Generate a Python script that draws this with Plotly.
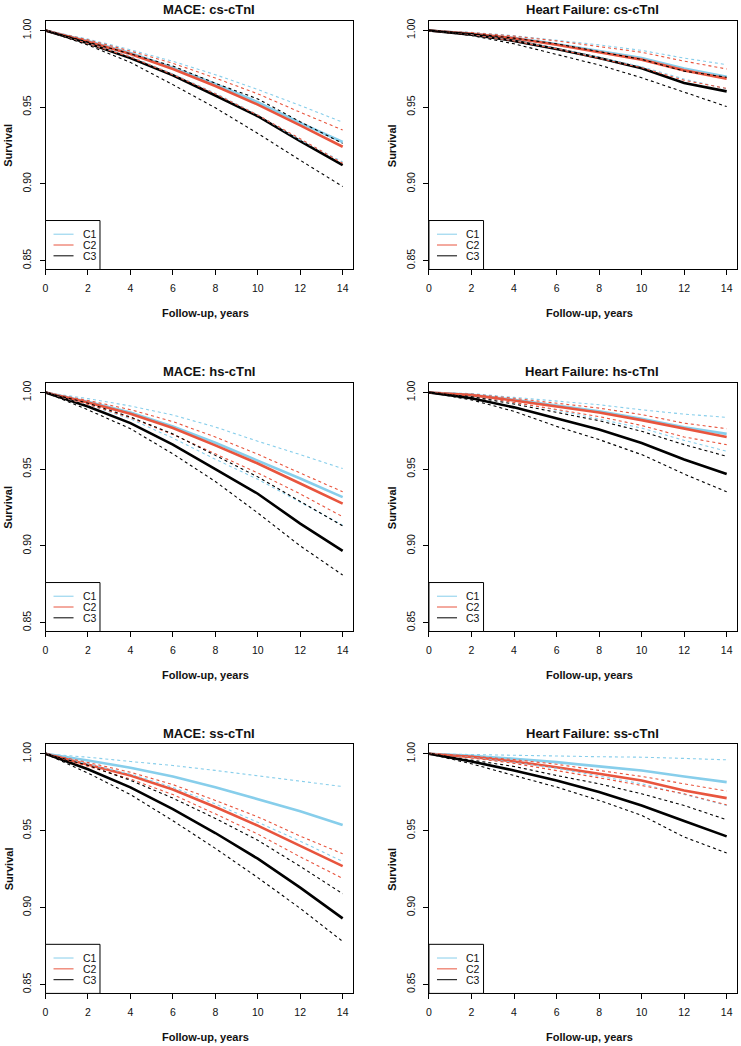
import plotly.graph_objects as go

W, H = 741, 1046

YEARS = [0, 2, 4, 6, 8, 10, 12, 14]
GROUPS = ["C1", "C2", "C3"]
GROUP_COLORS = ["#87CEEB", "#E8553E", "#000000"]
Y_TICKS = [0.85, 0.90, 0.95, 1.00]
X_TICKS = [0, 2, 4, 6, 8, 10, 12, 14]

# MACE: cs-cTnI  (estimate, lower, upper)
mace_cs_c1 = [1.0, 0.9931, 0.9853, 0.9758, 0.9651, 0.9532, 0.9398, 0.9273]
mace_cs_c1_lo = [1.0, 0.9918, 0.9831, 0.9716, 0.9591, 0.9450, 0.9286, 0.9143]
mace_cs_c1_hi = [1.0, 0.9944, 0.9874, 0.9799, 0.9712, 0.9615, 0.9511, 0.9402]
mace_cs_c2 = [1.0, 0.9926, 0.9846, 0.9749, 0.9638, 0.9517, 0.9381, 0.9242]
mace_cs_c2_lo = [1.0, 0.9913, 0.9827, 0.9712, 0.9587, 0.9448, 0.9294, 0.9134]
mace_cs_c2_hi = [1.0, 0.9939, 0.9866, 0.9786, 0.9690, 0.9587, 0.9467, 0.9351]
mace_cs_c3 = [1.0, 0.9916, 0.9820, 0.9708, 0.9576, 0.9441, 0.9279, 0.9123]
mace_cs_c3_lo = [1.0, 0.9905, 0.9792, 0.9647, 0.9496, 0.9329, 0.9154, 0.8983]
mace_cs_c3_hi = [1.0, 0.9926, 0.9848, 0.9768, 0.9656, 0.9554, 0.9405, 0.9264]

# Heart Failure: cs-cTnI
hf_cs_c1 = [1.0, 0.9980, 0.9952, 0.9912, 0.9866, 0.9820, 0.9752, 0.9698]
hf_cs_c1_lo = [1.0, 0.9972, 0.9935, 0.9884, 0.9825, 0.9764, 0.9683, 0.9620]
hf_cs_c1_hi = [1.0, 0.9988, 0.9966, 0.9938, 0.9906, 0.9870, 0.9820, 0.9777]
hf_cs_c2 = [1.0, 0.9979, 0.9949, 0.9907, 0.9858, 0.9810, 0.9740, 0.9686]
hf_cs_c2_lo = [1.0, 0.9971, 0.9932, 0.9880, 0.9818, 0.9757, 0.9675, 0.9622]
hf_cs_c2_hi = [1.0, 0.9986, 0.9963, 0.9932, 0.9895, 0.9858, 0.9800, 0.9749]
hf_cs_c3 = [1.0, 0.9973, 0.9932, 0.9879, 0.9820, 0.9754, 0.9658, 0.9603]
hf_cs_c3_lo = [1.0, 0.9967, 0.9913, 0.9843, 0.9775, 0.9692, 0.9597, 0.9504]
hf_cs_c3_hi = [1.0, 0.9980, 0.9950, 0.9913, 0.9862, 0.9812, 0.9735, 0.9695]

# MACE: hs-cTnI
mace_hs_c1 = [1.0, 0.9940, 0.9870, 0.9778, 0.9672, 0.9558, 0.9439, 0.9318]
mace_hs_c1_lo = [1.0, 0.9920, 0.9828, 0.9703, 0.9565, 0.9434, 0.9285, 0.9135]
mace_hs_c1_hi = [1.0, 0.9960, 0.9912, 0.9853, 0.9775, 0.9682, 0.9595, 0.9504]
mace_hs_c2 = [1.0, 0.9935, 0.9862, 0.9768, 0.9655, 0.9537, 0.9407, 0.9275]
mace_hs_c2_lo = [1.0, 0.9922, 0.9836, 0.9726, 0.9600, 0.9476, 0.9339, 0.9190]
mace_hs_c2_hi = [1.0, 0.9948, 0.9888, 0.9810, 0.9710, 0.9598, 0.9475, 0.9353]
mace_hs_c3 = [1.0, 0.9909, 0.9800, 0.9660, 0.9500, 0.9340, 0.9145, 0.8968]
mace_hs_c3_lo = [1.0, 0.9887, 0.9764, 0.9600, 0.9420, 0.9215, 0.9000, 0.8810]
mace_hs_c3_hi = [1.0, 0.9930, 0.9840, 0.9730, 0.9590, 0.9450, 0.9290, 0.9130]

# Heart Failure: hs-cTnI
hf_hs_c1 = [1.0, 0.9985, 0.9952, 0.9916, 0.9877, 0.9829, 0.9773, 0.9730]
hf_hs_c1_lo = [1.0, 0.9976, 0.9935, 0.9885, 0.9827, 0.9768, 0.9688, 0.9617]
hf_hs_c1_hi = [1.0, 0.9993, 0.9968, 0.9942, 0.9920, 0.9887, 0.9859, 0.9838]
hf_hs_c2 = [1.0, 0.9983, 0.9948, 0.9909, 0.9870, 0.9820, 0.9764, 0.9710]
hf_hs_c2_lo = [1.0, 0.9977, 0.9935, 0.9890, 0.9843, 0.9785, 0.9710, 0.9660]
hf_hs_c2_hi = [1.0, 0.9990, 0.9962, 0.9930, 0.9898, 0.9856, 0.9800, 0.9764]
hf_hs_c3 = [1.0, 0.9963, 0.9903, 0.9833, 0.9758, 0.9671, 0.9563, 0.9468]
hf_hs_c3_lo = [1.0, 0.9952, 0.9877, 0.9779, 0.9693, 0.9595, 0.9468, 0.9353]
hf_hs_c3_hi = [1.0, 0.9972, 0.9925, 0.9872, 0.9816, 0.9747, 0.9660, 0.9584]

# MACE: ss-cTnI
mace_ss_c1 = [1.0, 0.9957, 0.9909, 0.9853, 0.9783, 0.9707, 0.9627, 0.9537]
mace_ss_c1_lo = [1.0, 0.9935, 0.9868, 0.9782, 0.9674, 0.9555, 0.9432, 0.9300]
mace_ss_c1_hi = [1.0, 0.9978, 0.9950, 0.9924, 0.9892, 0.9859, 0.9822, 0.9787]
mace_ss_c2 = [1.0, 0.9931, 0.9859, 0.9768, 0.9654, 0.9533, 0.9404, 0.9270]
mace_ss_c2_lo = [1.0, 0.9918, 0.9836, 0.9735, 0.9610, 0.9478, 0.9330, 0.9190]
mace_ss_c2_hi = [1.0, 0.9944, 0.9880, 0.9800, 0.9697, 0.9590, 0.9465, 0.9350]
mace_ss_c3 = [1.0, 0.9900, 0.9782, 0.9640, 0.9485, 0.9318, 0.9130, 0.8930]
mace_ss_c3_lo = [1.0, 0.9875, 0.9735, 0.9565, 0.9385, 0.9195, 0.8995, 0.8780]
mace_ss_c3_hi = [1.0, 0.9925, 0.9828, 0.9712, 0.9580, 0.9438, 0.9268, 0.9090]

# Heart Failure: ss-cTnI
hf_ss_c1 = [1.0, 0.9987, 0.9968, 0.9946, 0.9918, 0.9892, 0.9853, 0.9816]
hf_ss_c1_lo = [1.0, 0.9977, 0.9944, 0.9906, 0.9855, 0.9805, 0.9736, 0.9664]
hf_ss_c1_hi = [1.0, 0.9997, 0.9992, 0.9986, 0.9981, 0.9978, 0.9970, 0.9961]
hf_ss_c2 = [1.0, 0.9980, 0.9950, 0.9913, 0.9870, 0.9827, 0.9762, 0.9712]
hf_ss_c2_lo = [1.0, 0.9973, 0.9938, 0.9892, 0.9844, 0.9794, 0.9740, 0.9668]
hf_ss_c2_hi = [1.0, 0.9986, 0.9962, 0.9932, 0.9892, 0.9853, 0.9805, 0.9758]
hf_ss_c3 = [1.0, 0.9950, 0.9892, 0.9827, 0.9751, 0.9664, 0.9563, 0.9463]
hf_ss_c3_lo = [1.0, 0.9935, 0.9859, 0.9784, 0.9697, 0.9600, 0.9459, 0.9355]
hf_ss_c3_hi = [1.0, 0.9960, 0.9918, 0.9859, 0.9805, 0.9740, 0.9664, 0.9571]

PANELS = [
    ("MACE: cs-cTnI", [(mace_cs_c1, mace_cs_c1_lo, mace_cs_c1_hi),
                       (mace_cs_c2, mace_cs_c2_lo, mace_cs_c2_hi),
                       (mace_cs_c3, mace_cs_c3_lo, mace_cs_c3_hi)]),
    ("Heart Failure: cs-cTnI", [(hf_cs_c1, hf_cs_c1_lo, hf_cs_c1_hi),
                                (hf_cs_c2, hf_cs_c2_lo, hf_cs_c2_hi),
                                (hf_cs_c3, hf_cs_c3_lo, hf_cs_c3_hi)]),
    ("MACE: hs-cTnI", [(mace_hs_c1, mace_hs_c1_lo, mace_hs_c1_hi),
                       (mace_hs_c2, mace_hs_c2_lo, mace_hs_c2_hi),
                       (mace_hs_c3, mace_hs_c3_lo, mace_hs_c3_hi)]),
    ("Heart Failure: hs-cTnI", [(hf_hs_c1, hf_hs_c1_lo, hf_hs_c1_hi),
                                (hf_hs_c2, hf_hs_c2_lo, hf_hs_c2_hi),
                                (hf_hs_c3, hf_hs_c3_lo, hf_hs_c3_hi)]),
    ("MACE: ss-cTnI", [(mace_ss_c1, mace_ss_c1_lo, mace_ss_c1_hi),
                       (mace_ss_c2, mace_ss_c2_lo, mace_ss_c2_hi),
                       (mace_ss_c3, mace_ss_c3_lo, mace_ss_c3_hi)]),
    ("Heart Failure: ss-cTnI", [(hf_ss_c1, hf_ss_c1_lo, hf_ss_c1_hi),
                                (hf_ss_c2, hf_ss_c2_lo, hf_ss_c2_hi),
                                (hf_ss_c3, hf_ss_c3_lo, hf_ss_c3_hi)]),
]

# plot boxes in pixels (left, right) / (top, bottom)
COL_PX = [(42.7, 351.7), (427.7, 737.3)]
ROW_PX = [(19, 268), (381.7, 630.7), (743.7, 993.3)]

FONT = "Liberation Sans, Arial, Helvetica, sans-serif"

fig = go.Figure()
annotations = []
shapes = []

for i, (title, groups) in enumerate(PANELS):
    row, col = divmod(i, 2)
    n = "" if i == 0 else str(i + 1)
    xa, ya = "x" + n, "y" + n
    l, r = COL_PX[col]
    t, b = ROW_PX[row]

    fig.update_layout({
        "xaxis" + n: dict(
            domain=[l / W, r / W], anchor=ya, range=[0, 14.5],
            tickvals=X_TICKS, ticks="outside", ticklen=5, tickcolor="black",
            ticklabelstandoff=4,
            showline=True, mirror=True, linecolor="black", linewidth=1,
            showgrid=False, zeroline=False,
            tickfont=dict(family=FONT, size=10.5, color="#111"),
        ),
        "yaxis" + n: dict(
            domain=[1 - b / H, 1 - t / H], anchor=xa, range=[0.8442, 1.0062],
            tickvals=Y_TICKS, tickformat=".2f", tickangle=-90,
            ticks="outside", ticklen=5, tickcolor="black",
            ticklabelstandoff=4,
            showline=True, mirror=True, linecolor="black", linewidth=1,
            showgrid=False, zeroline=False,
            tickfont=dict(family=FONT, size=10.5, color="#111"),
        ),
    })

    # solid survival estimates first, confidence bounds drawn on top
    for g, (est, lo, hi) in enumerate(groups):
        fig.add_trace(go.Scatter(
            x=YEARS, y=est, mode="lines", xaxis=xa, yaxis=ya,
            line=dict(color=GROUP_COLORS[g], width=2.6),
            name=GROUPS[g], showlegend=False,
        ))
    for g, (est, lo, hi) in enumerate(groups):
        for bound in (lo, hi):
            fig.add_trace(go.Scatter(
                x=YEARS, y=bound, mode="lines", xaxis=xa, yaxis=ya,
                line=dict(color=GROUP_COLORS[g], width=1.1, dash="3px,3px"),
                showlegend=False, hoverinfo="skip",
            ))

    dom_x, dom_y = xa + " domain", ya + " domain"
    annotations.append(dict(
        text="<b>" + title + "</b>", xref=dom_x, yref=dom_y, x=0.53, y=1,
        yshift=11, showarrow=False, xanchor="center", yanchor="middle",
        font=dict(family=FONT, size=13, color="#111"),
    ))
    annotations.append(dict(
        text="<b>Follow-up, years</b>", xref=dom_x, yref=dom_y, x=0.52, y=0,
        yshift=-44, showarrow=False, xanchor="center", yanchor="middle",
        font=dict(family=FONT, size=11, color="#111"),
    ))
    annotations.append(dict(
        text="<b>Survival</b>", xref=dom_x, yref=dom_y, x=0, y=0.5,
        xshift=-37, textangle=-90, showarrow=False,
        xanchor="center", yanchor="middle",
        font=dict(family=FONT, size=11, color="#111"),
    ))

    # legend box in the lower-left corner
    shapes.append(dict(
        type="rect", xref=dom_x, yref=dom_y, x0=0, x1=0.177, y0=0, y1=0.197,
        line=dict(color="black", width=1), fillcolor="white", layer="above",
    ))
    for g, name in enumerate(GROUPS):
        yy = 0.142 - g * 0.0435
        shapes.append(dict(
            type="line", xref=dom_x, yref=dom_y, x0=0.026, x1=0.091,
            y0=yy, y1=yy, line=dict(color=GROUP_COLORS[g], width=1),
            layer="above",
        ))
        annotations.append(dict(
            text=name, xref=dom_x, yref=dom_y, x=0.115, y=yy,
            showarrow=False, xanchor="left", yanchor="middle",
            font=dict(family=FONT, size=10.5, color="#111"),
        ))

fig.update_layout(
    width=W, height=H, margin=dict(l=0, r=0, t=0, b=0),
    plot_bgcolor="white", paper_bgcolor="white",
    showlegend=False, annotations=annotations, shapes=shapes,
)

# the page's default body margin would push the figure off the window
fig.write_html(
    "out.html",
    config={"displayModeBar": False},
    post_script="document.body.style.margin = '0';",
)
